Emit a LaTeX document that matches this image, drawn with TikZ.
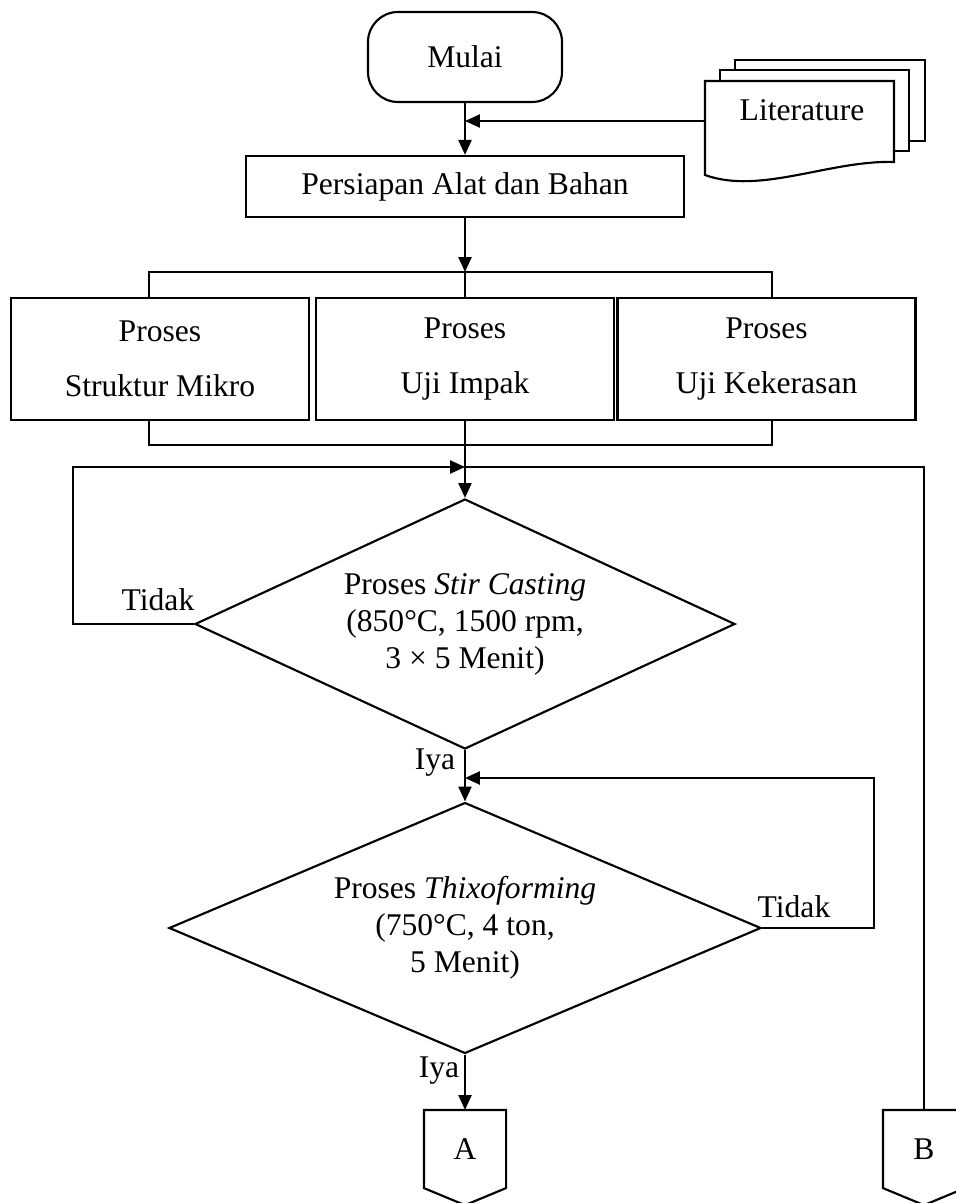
\documentclass[tikz,border=0pt]{standalone}
\usepackage{fontspec}
\setmainfont{Liberation Serif}
\usetikzlibrary{arrows.meta,shapes.geometric}

\begin{document}
\begin{tikzpicture}[x=0.375pt,y=-0.375pt,
  font=\fontsize{11.85}{13.9}\selectfont,
  line width=0.8pt,
  >={Triangle[length=5.6pt,width=4.9pt]},
  terminal/.style={draw,rounded corners=11.25pt,minimum width=72.75pt,minimum height=33.75pt,inner sep=0},
  process/.style={draw,minimum width=111.75pt,minimum height=45.75pt,align=center,inner sep=0},
  decision/.style={draw,diamond,aspect=2.2,inner sep=0,align=center},
  offpage/.style={minimum width=30pt,minimum height=28.5pt,inner sep=0},
  branch/.style={line width=0.6pt}
]
\useasboundingbox (0,0) rectangle (956,1203);

% Start and literature
\node[terminal] (mulai) at (465,57) {Mulai};
\draw[fill=white] (735,60) rectangle (925,141);
\draw[fill=white] (720,70) rectangle (909,151);
\draw[fill=white] (705,81) -- (894,81) -- (894,162) .. controls (830,160) and (760,195) .. (705,175) -- cycle;
\node (lit) at (802,110) {Literature};
\coordinate (litin) at (705,121);
\coordinate (join) at (465,121);

\node[process,minimum width=164.25pt,minimum height=22.9pt] (alat) at (465,186.5) {Persiapan Alat dan Bahan};
\draw[->] (mulai) -- (alat);
\draw[->] (litin) -- (join);

% Three processes
\node[process,line width=1.1pt] (mikro) at (160,359) {Proses\\[6.7pt]Struktur Mikro};
\node[process] (impak) at (465,359) {Proses\\[6.7pt]Uji Impak};
\node[process] (keras) at (766.5,359) {Proses\\[6.7pt]Uji Kekerasan};

\coordinate (tl) at (149,272);
\coordinate (tr) at (772,272);
\coordinate (bl) at (149,445);
\coordinate (br) at (772,445);
\coordinate (top) at (465,272);
\draw[->] (alat) -- (top);
\draw[branch] (tl |- mikro.north) -- (tl) -- (tr) -- (tr |- keras.north);
\draw[branch] (top) -- (impak);
\draw[branch] (bl |- mikro.south) -- (bl) -- (br) -- (br |- keras.south);

% Decisions
\node[decision,minimum width=202.5pt,minimum height=93.75pt] (stir) at (465,624)
  {Proses \textit{Stir Casting}\\(850°C, 1500 rpm,\\3 × 5 Menit)};
\node[decision,minimum width=222pt,minimum height=94.1pt] (thixo) at (465,928)
  {Proses \textit{Thixoforming}\\(750°C, 4 ton,\\5 Menit)};

\draw[->] (impak) -- (stir);

\coordinate (loopin) at (465,467);
\coordinate (loopL) at (73,467);
\draw[->] (stir.west) -| (loopL) -- (loopin);
\node (tidak1) at (158,600) {Tidak};

\draw[->] (stir) -- (thixo);
\node (iya1) at (435,763) {Iya};

\coordinate (loopR) at (874,778);
\coordinate (back) at (465,778);
\draw[->] (thixo.east) -| (loopR) -- (back);
\node (tidak2) at (794,907) {Tidak};

% Off-page connectors
\node[offpage] (A) at (465,1149) {A};
\node[offpage] (B) at (924,1149) {B};
\draw (A.north west) -- (A.north east) -- (A.south east) -- ([yshift=-6.4pt]A.south) -- (A.south west) -- cycle;
\draw (B.north west) -- (B.north east) -- (B.south east) -- ([yshift=-6.4pt]B.south) -- (B.south west) -- cycle;

\draw[->] (thixo) -- (A);
\node (iya2) at (439,1071) {Iya};

\coordinate (rB) at (924,467);
\draw[branch] (loopin) -- (rB) -- (B);

\end{tikzpicture}
\end{document}
